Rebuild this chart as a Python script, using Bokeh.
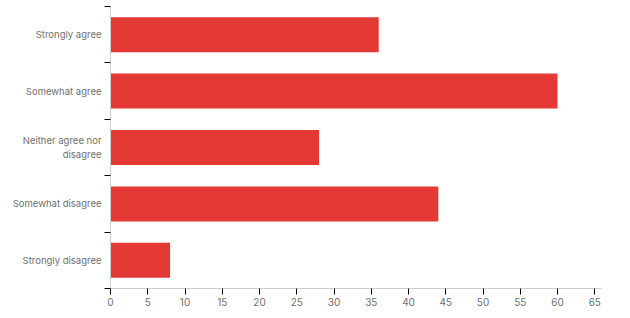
from bokeh.plotting import figure
from bokeh.models import Range1d, FixedTicker, ColumnDataSource
from bokeh.embed import file_html
from bokeh.resources import INLINE

categories = ["Strongly agree", "Somewhat agree", "Neither agree nor\ndisagree",
              "Somewhat disagree", "Strongly disagree"]
values = [36, 60, 28, 44, 8]
x_ticks = list(range(0, 70, 5))

pos = list(range(len(categories)))
src = ColumnDataSource(dict(y=pos, v=values))

p = figure(width=630, height=318, output_backend="svg", toolbar_location=None,
           x_range=Range1d(0, 65.9), y_range=Range1d(len(categories) - 0.5, -0.5),
           min_border_left=110, min_border_right=29, min_border_top=6, min_border_bottom=30)
p.hbar(y="y", right="v", left=0, height=0.62, source=src, color="#E53935", line_color=None)

p.xgrid.visible = False
p.ygrid.visible = False
p.outline_line_color = None

font = "Inter"
lab_color = "#707070"

ya = p.yaxis[0]
ya.ticker = FixedTicker(ticks=pos, minor_ticks=[i - 0.5 for i in range(len(categories) + 1)])
ya.major_label_overrides = {i: c for i, c in enumerate(categories)}
ya.major_tick_line_color = None
ya.major_tick_out = 0
ya.major_tick_in = 0
ya.minor_tick_line_color = "#000000"
ya.minor_tick_out = 6
ya.minor_tick_in = 0
ya.axis_line_color = "#cccccc"
ya.major_label_standoff = 3
ya.major_label_text_font = font
ya.major_label_text_font_size = "9.5px"
ya.major_label_text_color = lab_color

xa = p.xaxis[0]
xa.ticker = FixedTicker(ticks=x_ticks, minor_ticks=[])
xa.major_tick_line_color = "#000000"
xa.major_tick_out = 6
xa.major_tick_in = 0
xa.minor_tick_line_color = None
xa.axis_line_color = "#cccccc"
xa.major_label_standoff = 3
xa.major_label_text_font = font
xa.major_label_text_font_size = "10px"
xa.major_label_text_color = lab_color

open("out.html", "w").write(file_html(p, INLINE))
